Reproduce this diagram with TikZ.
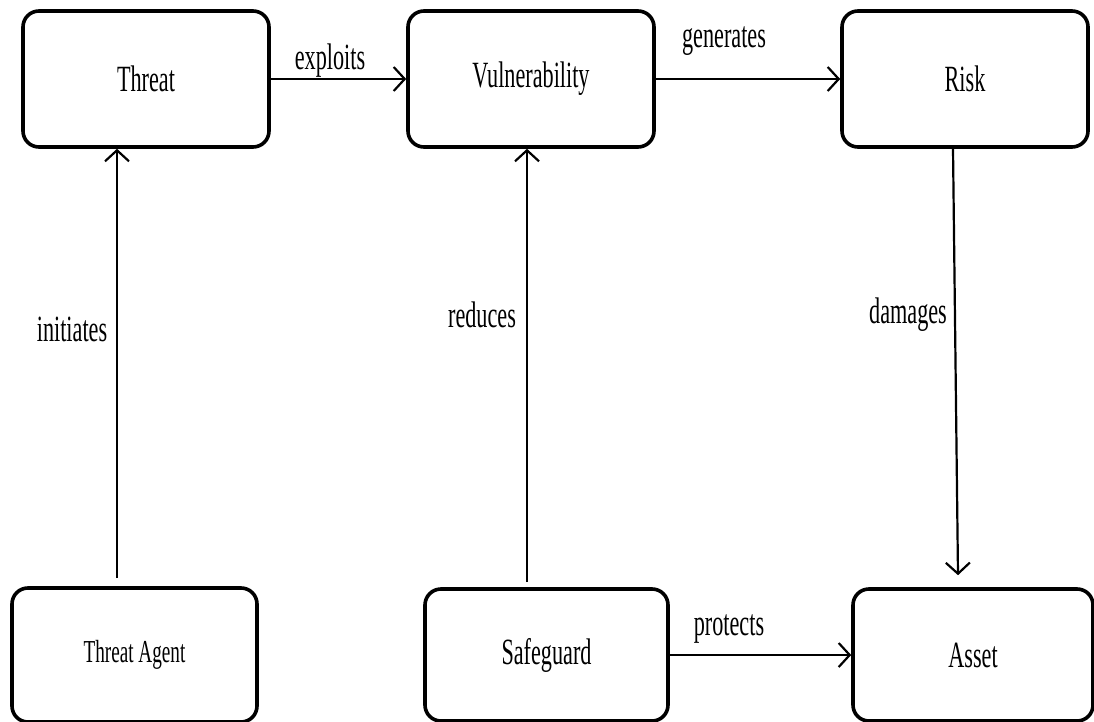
\documentclass[tikz,border=0pt]{standalone}
\usepackage{fontspec}
\setmainfont[FakeStretch=0.6]{Liberation Serif}
\usetikzlibrary{arrows.meta}
\begin{document}
\begin{tikzpicture}[x=1pt,y=-1pt,
  box/.style={draw, line width=3.6pt, rounded corners=16pt, minimum width=#1, inner sep=0pt},
  box/.default=246pt,
  big/.style={font=\fontsize{37}{40}\selectfont},
  lbl/.style={big, inner sep=0pt},
  link/.style={line width=2.2pt, -{Straight Barb[length=11pt,width=24pt,line width=2.2pt]}}]
  \useasboundingbox (0,0) rectangle (1094,722);
  % concepts
  \node[box, minimum height=136pt, big] (threat) at (146,79) {Threat};
  \node[box, minimum height=136pt, big] (vuln) at (531,79) {Vulnerability};
  \node[box, minimum height=136pt, big] (risk) at (965,79) {Risk};
  \node[box=245pt, minimum height=134pt, font=\fontsize{32}{35}\selectfont] (agent) at (134.5,655) {Threat Agent};
  \node[box=243pt, minimum height=132pt, big] (safe) at (546.5,655) {Safeguard};
  \node[box=240pt, minimum height=132pt, big] (asset) at (973,655) {Asset};
  % relations
  \draw[link] (threat.east) -- (vuln.west);
  \draw[link] (vuln.east) -- (risk.west);
  \draw[link] (safe.east) -- (asset.west);
  \coordinate (ia) at ([xshift=-17.5pt,yshift=8pt]agent.north);
  \draw[link] (ia) -- (threat.south -| ia);
  \coordinate (rs) at ([xshift=-19.5pt,yshift=5pt]safe.north);
  \draw[link] (rs) -- (vuln.south -| rs);
  \coordinate (dr) at ([xshift=-12pt]risk.south);
  \coordinate (da) at ([xshift=-15pt,yshift=12pt]asset.north);
  \draw[link] (dr) -- (da);
  % labels
  \node[lbl] (l1) at (330,61) {exploits};
  \node[lbl] (l2) at (724,41) {generates};
  \node[lbl] (l3) at (72,329) {initiates};
  \node[lbl] (l4) at (482,315) {reduces};
  \node[lbl] (l5) at (908,315) {damages};
  \node[lbl] (l6) at (729,629) {protects};
\end{tikzpicture}
\end{document}
